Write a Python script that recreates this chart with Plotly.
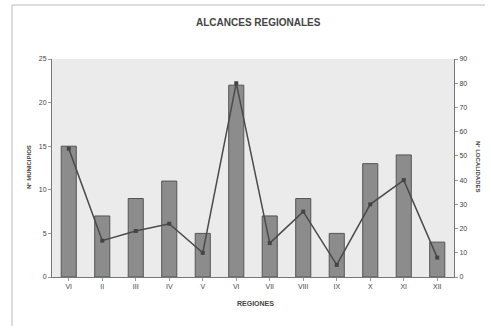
import plotly.graph_objects as go

regions = ["VI", "II", "III", "IV", "V", "VI", "VII", "VIII", "IX", "X", "XI", "XII"]
municipios = [15, 7, 9, 11, 5, 22, 7, 9, 5, 13, 14, 4]
localidades = [53, 15, 19, 22, 10, 80, 14, 27, 5, 30, 40, 8]
left_ticks = [0, 5, 10, 15, 20, 25]
right_ticks = [0, 10, 20, 30, 40, 50, 60, 70, 80, 90]

xpos = list(range(len(regions)))
font = "Liberation Sans, Arial, sans-serif"
W, H = 491, 328
L, R, T, B = 52, 37, 59, 51
pw, ph = W - L - R, H - T - B

def px_x(x):
    return (x - L) / pw

def px_y(y):
    return (H - B - y) / ph

fig = go.Figure()
fig.add_trace(go.Bar(
    x=xpos, y=municipios, width=0.45,
    marker=dict(color="#8c8c8c", line=dict(color="#555555", width=1)),
    yaxis="y", showlegend=False,
))
fig.add_trace(go.Scatter(
    x=xpos, y=localidades, mode="lines+markers",
    line=dict(color="#4a4a4a", width=1.5),
    marker=dict(symbol="square", size=4, color="#444444"),
    yaxis="y2", showlegend=False,
))

axis_common = dict(showgrid=False, zeroline=False, showline=True, linecolor="#777777",
                   ticks="outside", ticklen=3, tickcolor="#999999", automargin=False,
                   tickfont=dict(size=7, color="#444444"))

fig.update_layout(
    width=W, height=H,
    margin=dict(l=L, r=R, t=T, b=B, autoexpand=False),
    paper_bgcolor="white", plot_bgcolor="#ebebeb",
    font=dict(family=font, size=7, color="#444444"),
    bargap=0.55,
    xaxis=dict(tickmode="array", tickvals=xpos, ticktext=regions,
               range=[-0.5, len(regions) - 0.5], **axis_common),
    yaxis=dict(range=[0, 25], tickvals=left_ticks, **axis_common),
    yaxis2=dict(range=[0, 90], tickvals=right_ticks, overlaying="y", side="right", **axis_common),
    annotations=[
        dict(text="<b>ALCANCES REGIONALES</b>", xref="paper", yref="paper",
             x=px_x(258), y=px_y(22), showarrow=False, xanchor="center", yanchor="middle",
             font=dict(size=10, color="#444444")),
        dict(text="<b>REGIONES</b>", xref="paper", yref="paper",
             x=px_x(255), y=px_y(303), showarrow=False, xanchor="center", yanchor="middle",
             font=dict(size=7, color="#444444")),
        dict(text="<b>Nº MUNICIPIOS</b>", xref="paper", yref="paper",
             x=px_x(29), y=px_y(167), showarrow=False, xanchor="center", yanchor="middle",
             textangle=-90, font=dict(size=6, color="#444444")),
        dict(text="<b>Nº LOCALIDADES</b>", xref="paper", yref="paper",
             x=px_x(478), y=px_y(167), showarrow=False, xanchor="center", yanchor="middle",
             textangle=90, font=dict(size=6, color="#444444")),
    ],
    shapes=[
        dict(type="line", xref="paper", yref="paper", x0=px_x(12), x1=px_x(485), y0=px_y(5), y1=px_y(5),
             line=dict(color="#bbbbbb", width=1)),
        dict(type="line", xref="paper", yref="paper", x0=px_x(12), x1=px_x(12), y0=px_y(5), y1=px_y(326),
             line=dict(color="#bbbbbb", width=1)),
    ],
)

fig.write_html("out.html", config={"displayModeBar": False},
               post_script="document.body.style.margin='0';document.body.style.overflow='hidden';")
